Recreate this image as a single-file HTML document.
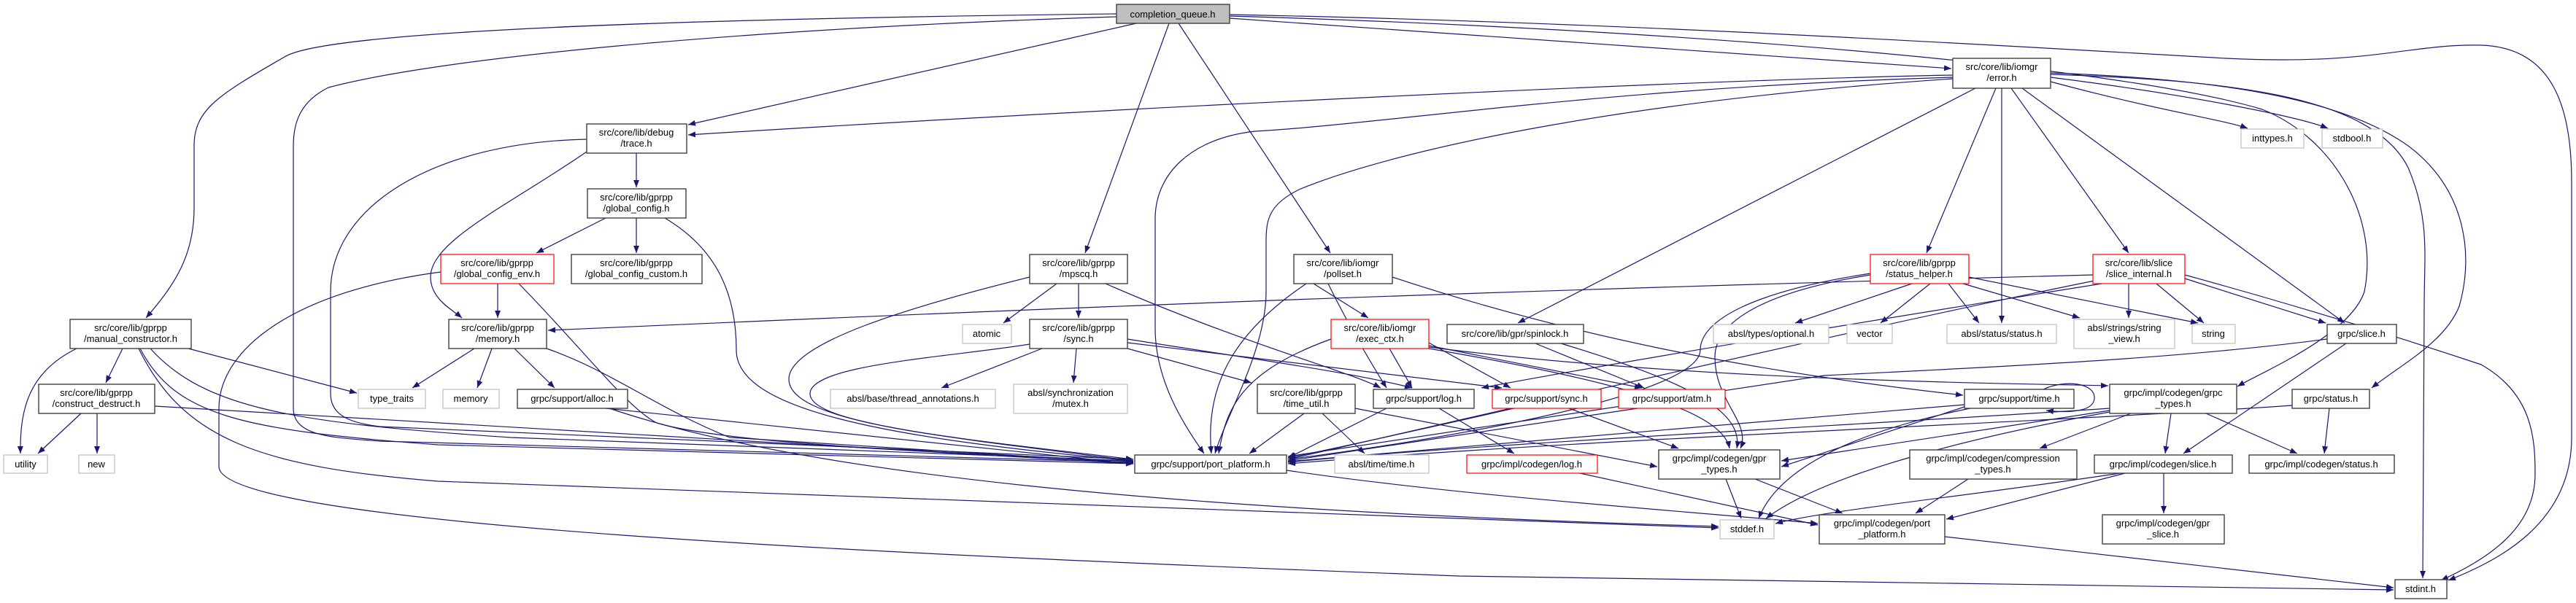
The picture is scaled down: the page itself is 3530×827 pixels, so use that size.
<!DOCTYPE html>
<html><head><meta charset="utf-8"><style>
html,body{margin:0;padding:0;background:#fff;}
svg{display:block}
text{font-family:"Liberation Sans",sans-serif;font-size:13px;fill:#000;text-anchor:middle}
.e{fill:none;stroke:#191970;stroke-width:1.2}
.n{fill:#fff;stroke:#404040;stroke-width:1.4}
.g{fill:#fff;stroke:#bfbfbf;stroke-width:1.2}
.r{fill:#fff;stroke:#ff0000;stroke-width:1.2}
</style></head><body>
<svg width="3530" height="827" viewBox="0 0 3530 827" xmlns="http://www.w3.org/2000/svg">
<defs><marker id="a" markerUnits="userSpaceOnUse" markerWidth="11" markerHeight="8" refX="10" refY="4" orient="auto"><path d="M0,0 L10,4 L0,8 z" fill="#191970"/></marker></defs>
<g class="e" marker-end="url(#a)">
<path d="M1530,19 C1000,25 450,40 390,78 C300,130 266,150 266,200 L266,285 C266,350 240,390 200,436"/>
<path d="M1530,23 C1000,40 600,80 450,120 C410,140 402,170 402,200 L402,560 C402,600 460,600 520,605 L1553,634"/>
<path d="M1557,32 L943,171"/>
<path d="M1602,32 L1487,347"/>
<path d="M1615,32 L1823,347"/>
<path d="M1685,25 L2674,94"/>
<path d="M1685,20 C2200,30 2700,60 3050,80 C3250,90 3300,60 3400,62 C3500,65 3524,150 3524,250 L3524,600 C3524,720 3420,770 3355,796"/>
<path d="M1685,22 C2300,40 2900,90 3100,150 C3200,190 3260,300 3240,400 C3220,460 3100,510 3066,530"/>
<path d="M2810,100 C3100,110 3230,150 3300,200 C3380,260 3390,350 3370,420 C3350,470 3290,500 3250,532"/>
<path d="M2810,102 C3050,110 3250,130 3300,230 C3330,300 3322,350 3322,420 L3320,793"/>
<path d="M2994,377 C3150,420 3280,460 3400,500 C3470,540 3474,600 3474,650 C3474,730 3400,770 3345,796"/>
<path d="M2676,103 C2300,110 1500,150 943,185"/>
<path d="M2676,106 C2200,120 1900,170 1720,180 C1630,190 1583,240 1583,300 L1583,450 C1583,520 1620,580 1650,622"/>
<path d="M2676,108 C2200,140 1900,210 1780,260 C1740,280 1735,300 1735,330 L1735,400 C1735,480 1680,570 1665,622"/>
<path d="M2707,121 L2080,443"/>
<path d="M2735,121 L2640,347"/>
<path d="M2743,121 L2743,443"/>
<path d="M2756,121 L2917,347"/>
<path d="M2771,121 L3213,443"/>
<path d="M2810,112 C2950,150 3050,165 3080,176"/>
<path d="M2810,106 C3000,130 3150,160 3190,176"/>
<path d="M872,210 L872,257"/>
<path d="M804,208 C700,280 590,330 590,380 C590,410 620,425 633,436"/>
<path d="M804,191 C600,195 453,280 453,400 L453,540 C453,570 480,580 520,585 L1553,630"/>
<path d="M830,299 L735,347"/>
<path d="M872,299 L872,347"/>
<path d="M911,299 C980,340 1009,400 1009,480 C1009,560 1200,600 1553,632"/>
<path d="M682,389 L682,436"/>
<path d="M711,389 C800,480 860,560 900,580 C1000,610 1300,620 1553,633"/>
<path d="M604,373 C400,400 300,480 300,560 L300,640 C300,720 1200,760 2000,790 L3280,809"/>
<path d="M105,478 C40,510 27,560 28,622"/>
<path d="M168,478 L145,525"/>
<path d="M258,478 L489,539"/>
<path d="M192,478 C240,570 330,590 600,610 L1553,636"/>
<path d="M206,478 C280,560 400,580 700,600 L1553,632"/>
<path d="M190,478 C250,600 350,640 600,660 L2355,724"/>
<path d="M111,567 L52,622"/>
<path d="M133,567 L133,622"/>
<path d="M212,557 L1553,636"/>
<path d="M650,478 L565,532"/>
<path d="M674,478 L654,532"/>
<path d="M705,478 L760,532"/>
<path d="M749,478 C840,510 900,560 1000,600 L1553,635"/>
<path d="M830,560 L1553,636"/>
<path d="M835,560 C1100,650 1600,700 2355,722"/>
<path d="M1448,389 L1375,443"/>
<path d="M1478,389 L1478,436"/>
<path d="M1515,389 C1700,470 1850,510 1892,532"/>
<path d="M1411,380 C1250,420 1081,470 1081,520 C1081,580 1300,600 1553,630"/>
<path d="M1428,478 L1290,532"/>
<path d="M1475,478 L1471,525"/>
<path d="M1545,478 L1715,525"/>
<path d="M1545,470 C1800,500 1950,520 2058,532"/>
<path d="M1545,465 C1700,490 1850,510 1935,532"/>
<path d="M1411,472 C1300,490 1110,500 1110,540 C1110,580 1300,600 1553,632"/>
<path d="M1800,389 L1875,436"/>
<path d="M1790,389 C1700,450 1650,520 1660,622"/>
<path d="M1908,380 C2150,460 2400,510 2690,542"/>
<path d="M1820,389 C1850,450 1880,500 1900,532"/>
<path d="M1904,478 L1935,532"/>
<path d="M1824,465 C1700,510 1680,560 1670,622"/>
<path d="M1958,470 L2070,532"/>
<path d="M1958,474 L2250,532"/>
<path d="M1958,476 C2300,520 2700,525 2889,529"/>
<path d="M1958,478 C2200,520 2360,560 2370,615"/>
<path d="M2104,471 L2253,532"/>
<path d="M2139,471 C2300,520 2390,560 2380,615"/>
<path d="M2620,389 L2460,443"/>
<path d="M2645,389 L2577,443"/>
<path d="M2690,389 L2850,436"/>
<path d="M2698,380 L3012,443"/>
<path d="M2563,375 C2400,400 2330,440 2330,480 C2330,540 2000,600 1765,630"/>
<path d="M2563,377 C2420,400 2350,440 2350,490 C2350,550 2400,580 2385,615"/>
<path d="M2670,389 L2712,443"/>
<path d="M2917,389 L2917,436"/>
<path d="M2955,389 L3020,443"/>
<path d="M2994,382 L3187,443"/>
<path d="M2868,377 C2000,400 1500,420 751,453"/>
<path d="M2880,389 C2500,450 2200,500 2030,532"/>
<path d="M2870,385 C2500,460 2000,580 1765,628"/>
<path d="M3215,471 L2992,622"/>
<path d="M3189,465 C3000,490 2800,500 2500,515 L1765,626"/>
<path d="M1972,560 L2075,622"/>
<path d="M1900,560 L1765,628"/>
<path d="M2070,560 L1765,630"/>
<path d="M2150,560 L2300,615"/>
<path d="M2244,560 L1765,632"/>
<path d="M1787,567 L1712,622"/>
<path d="M1812,567 L1870,622"/>
<path d="M1857,560 L2271,640"/>
<path d="M2692,555 L1765,633"/>
<path d="M2692,558 L2441,640"/>
<path d="M2700,560 C2500,600 2430,660 2410,711"/>
<path d="M2800,534 C2830,520 2872,525 2870,547 C2868,566 2830,566 2804,563"/>
<path d="M2920,567 L2795,615"/>
<path d="M2975,567 L2967,622"/>
<path d="M3023,567 L3148,622"/>
<path d="M2891,560 C2600,580 2000,610 1765,634"/>
<path d="M2891,565 C2700,600 2500,650 2420,711"/>
<path d="M2891,563 L2441,632"/>
<path d="M3192,560 L3185,622"/>
<path d="M3141,556 C2800,580 2200,600 1765,636"/>
<path d="M2365,657 L2386,711"/>
<path d="M2405,657 L2525,704"/>
<path d="M2697,657 L2625,704"/>
<path d="M2965,649 L2965,704"/>
<path d="M2912,649 L2667,712"/>
<path d="M2905,649 C2700,680 2500,700 2433,718"/>
<path d="M2165,649 L2491,720"/>
<path d="M2665,736 L3280,806"/>
<path d="M1763,645 C2000,680 2300,700 2491,718"/>
</g>
<g>
<rect x="1530" y="6" width="155" height="26" fill="#bfbfbf" stroke="#404040" stroke-width="1.4"/><text x="1607" y="24">completion_queue.h</text>
<rect class="n" x="804" y="170" width="137" height="40"/><text x="872" y="186">src/core/lib/debug</text><text x="872" y="201">/trace.h</text>
<rect class="n" x="805" y="259" width="135" height="40"/><text x="872" y="275">src/core/lib/gprpp</text><text x="872" y="290">/global_config.h</text>
<rect class="r" x="604" y="349" width="155" height="40"/><text x="681" y="365">src/core/lib/gprpp</text><text x="681" y="380">/global_config_env.h</text>
<rect class="n" x="783" y="349" width="179" height="40"/><text x="872" y="365">src/core/lib/gprpp</text><text x="872" y="380">/global_config_custom.h</text>
<rect class="n" x="96" y="438" width="166" height="40"/><text x="179" y="454">src/core/lib/gprpp</text><text x="179" y="469">/manual_constructor.h</text>
<rect class="n" x="53" y="527" width="159" height="40"/><text x="132" y="543">src/core/lib/gprpp</text><text x="132" y="558">/construct_destruct.h</text>
<rect class="g" x="5" y="624" width="60" height="25"/><text x="35" y="641">utility</text>
<rect class="g" x="108" y="624" width="49" height="25"/><text x="132" y="641">new</text>
<rect class="n" x="615" y="438" width="134" height="40"/><text x="682" y="454">src/core/lib/gprpp</text><text x="682" y="469">/memory.h</text>
<rect class="g" x="491" y="534" width="92" height="26"/><text x="537" y="551">type_traits</text>
<rect class="g" x="607" y="534" width="77" height="26"/><text x="645" y="551">memory</text>
<rect class="n" x="709" y="534" width="151" height="26"/><text x="784" y="551">grpc/support/alloc.h</text>
<rect class="n" x="1411" y="349" width="134" height="40"/><text x="1478" y="365">src/core/lib/gprpp</text><text x="1478" y="380">/mpscq.h</text>
<rect class="g" x="1319" y="445" width="67" height="26"/><text x="1352" y="462">atomic</text>
<rect class="n" x="1411" y="438" width="134" height="40"/><text x="1478" y="454">src/core/lib/gprpp</text><text x="1478" y="469">/sync.h</text>
<rect class="g" x="1138" y="534" width="226" height="26"/><text x="1251" y="551">absl/base/thread_annotations.h</text>
<rect class="g" x="1389" y="527" width="156" height="40"/><text x="1467" y="543">absl/synchronization</text><text x="1467" y="558">/mutex.h</text>
<rect class="n" x="1723" y="527" width="134" height="40"/><text x="1790" y="543">src/core/lib/gprpp</text><text x="1790" y="558">/time_util.h</text>
<rect class="n" x="1555" y="624" width="208" height="25"/><text x="1659" y="641">grpc/support/port_platform.h</text>
<rect class="n" x="1773" y="349" width="135" height="40"/><text x="1840" y="365">src/core/lib/iomgr</text><text x="1840" y="380">/pollset.h</text>
<rect class="n" x="2676" y="80" width="134" height="41"/><text x="2743" y="96">src/core/lib/iomgr</text><text x="2743" y="111">/error.h</text>
<rect class="r" x="1824" y="438" width="134" height="40"/><text x="1891" y="454">src/core/lib/iomgr</text><text x="1891" y="469">/exec_ctx.h</text>
<rect class="n" x="1983" y="445" width="187" height="26"/><text x="2076" y="462">src/core/lib/gpr/spinlock.h</text>
<rect class="r" x="2563" y="349" width="135" height="40"/><text x="2630" y="365">src/core/lib/gprpp</text><text x="2630" y="380">/status_helper.h</text>
<rect class="r" x="2868" y="349" width="126" height="40"/><text x="2931" y="365">src/core/lib/slice</text><text x="2931" y="380">/slice_internal.h</text>
<rect class="g" x="3071" y="177" width="86" height="26"/><text x="3114" y="194">inttypes.h</text>
<rect class="g" x="3182" y="177" width="83" height="26"/><text x="3223" y="194">stdbool.h</text>
<rect class="g" x="2348" y="445" width="158" height="26"/><text x="2427" y="462">absl/types/optional.h</text>
<rect class="g" x="2531" y="445" width="62" height="26"/><text x="2562" y="462">vector</text>
<rect class="g" x="2668" y="445" width="150" height="26"/><text x="2743" y="462">absl/status/status.h</text>
<rect class="g" x="2842" y="438" width="138" height="40"/><text x="2911" y="454">absl/strings/string</text><text x="2911" y="469">_view.h</text>
<rect class="g" x="3004" y="445" width="59" height="26"/><text x="3033" y="462">string</text>
<rect class="n" x="3189" y="445" width="95" height="26"/><text x="3236" y="462">grpc/slice.h</text>
<rect class="n" x="1882" y="534" width="138" height="26"/><text x="1951" y="551">grpc/support/log.h</text>
<rect class="r" x="2045" y="534" width="149" height="26"/><text x="2119" y="551">grpc/support/sync.h</text>
<rect class="r" x="2218" y="534" width="146" height="26"/><text x="2291" y="551">grpc/support/atm.h</text>
<rect class="n" x="2692" y="534" width="150" height="26"/><text x="2767" y="551">grpc/support/time.h</text>
<rect class="n" x="2891" y="527" width="174" height="40"/><text x="2978" y="543">grpc/impl/codegen/grpc</text><text x="2978" y="558">_types.h</text>
<rect class="n" x="3141" y="534" width="106" height="26"/><text x="3194" y="551">grpc/status.h</text>
<rect class="g" x="1829" y="624" width="129" height="25"/><text x="1893" y="641">absl/time/time.h</text>
<rect class="r" x="2010" y="624" width="179" height="25"/><text x="2099" y="641">grpc/impl/codegen/log.h</text>
<rect class="n" x="2273" y="617" width="166" height="40"/><text x="2356" y="633">grpc/impl/codegen/gpr</text><text x="2356" y="648">_types.h</text>
<rect class="n" x="2617" y="617" width="229" height="40"/><text x="2731" y="633">grpc/impl/codegen/compression</text><text x="2731" y="648">_types.h</text>
<rect class="n" x="2870" y="624" width="189" height="25"/><text x="2964" y="641">grpc/impl/codegen/slice.h</text>
<rect class="n" x="3082" y="624" width="199" height="25"/><text x="3181" y="641">grpc/impl/codegen/status.h</text>
<rect class="g" x="2357" y="713" width="74" height="26"/><text x="2394" y="730">stddef.h</text>
<rect class="n" x="2493" y="706" width="172" height="40"/><text x="2579" y="722">grpc/impl/codegen/port</text><text x="2579" y="737">_platform.h</text>
<rect class="n" x="2881" y="706" width="167" height="40"/><text x="2964" y="722">grpc/impl/codegen/gpr</text><text x="2964" y="737">_slice.h</text>
<rect class="n" x="3282" y="795" width="71" height="26"/><text x="3317" y="812">stdint.h</text>
</g>
</svg>
</body></html>
